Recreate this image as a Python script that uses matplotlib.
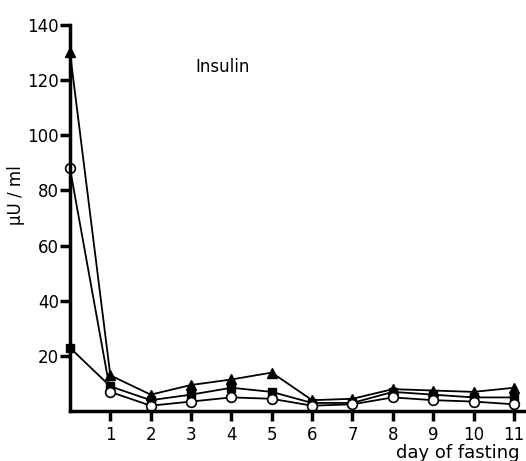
import matplotlib.pyplot as plt

days = [0, 1, 2, 3, 4, 5, 6, 7, 8, 9, 10, 11]
triangle = [130, 13, 6, 9.5, 11.5, 14, 4, 4.5, 8, 7.5, 7, 8.5]
square = [23, 9, 4, 6, 8.5, 7, 3, 3, 7, 6, 5, 5]
circle = [88, 7, 2, 3.5, 5, 4.5, 2, 2.5, 5, 4, 3.5, 2.5]
xticks = [1, 2, 3, 4, 5, 6, 7, 8, 9, 10, 11]
yticks = [20, 40, 60, 80, 100, 120, 140]

plt.rcParams['font.family'] = ['DejaVu Sans']
fig = plt.figure(figsize=(5.26, 4.61), dpi=100)
ax = fig.add_axes([0.133, 0.108, 0.867, 0.838])

ax.plot(days, triangle, color='black', lw=1.3, marker='^', ms=7, mfc='black', mec='black', clip_on=False)
ax.plot(days, square, color='black', lw=1.3, marker='s', ms=6, mfc='black', mec='black', clip_on=False)
ax.plot(days, circle, color='black', lw=1.3, marker='o', ms=7, mfc='white', mec='black', mew=1.2, clip_on=False)

ax.set_xlim(0, 11.3)
ax.set_ylim(0, 140)
ax.set_xticks(xticks)
ax.set_yticks(yticks)
ax.spines['top'].set_visible(False)
ax.spines['right'].set_visible(False)
ax.spines['left'].set_linewidth(2.5)
ax.spines['bottom'].set_linewidth(2.5)
ax.tick_params(axis='both', width=2.5, length=7, labelsize=12, direction='out')
ax.tick_params(axis='y', pad=1)

ax.text(3.1, 123, 'Insulin', fontsize=12)
ax.set_ylabel('μU / ml', fontsize=12)
ax.yaxis.set_label_coords(-0.098, 0.56)
ax.set_xlabel('day of fasting', fontsize=13, labelpad=0)
ax.xaxis.set_label_coords(0.85, -0.085)

fig.savefig('out.png', dpi=100)
